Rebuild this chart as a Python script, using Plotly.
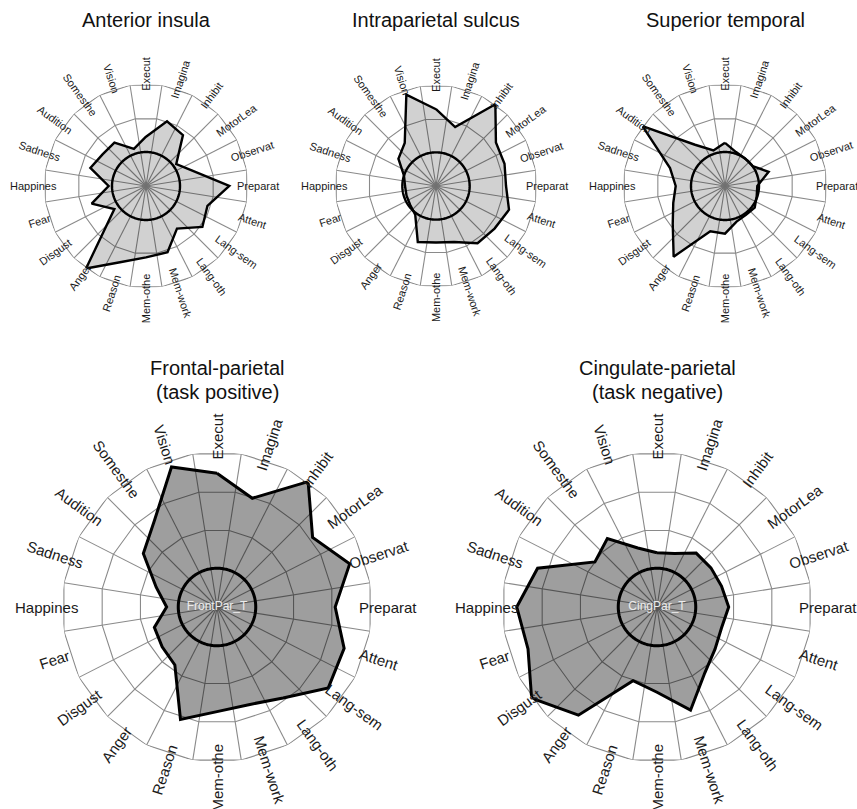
import numpy as np
import plotly.graph_objects as go

# ---------------- data ----------------
categories = ["Execut", "Imagina", "Inhibit", "MotorLea", "Observat", "Preparat",
              "Attent", "Lang-sem", "Lang-oth", "Mem-work", "Mem-othe", "Reason",
              "Anger", "Disgust", "Fear", "Happines", "Sadness", "Audition",
              "Somesthe", "Vision"]

anterior_insula = [1.45, 2.0, 1.85, 1.1, 1.45, 2.45, 1.9, 2.05, 1.55, 2.05,
                   2.1, 2.35, 3.0, 1.15, 1.68, 1.1, 1.72, 1.58, 1.58, 1.15]
intraparietal_sulcus = [2.28, 1.84, 3.0, 2.2, 2.14, 2.08, 2.28, 2.15, 2.1, 1.75,
                        1.68, 1.75, 1.05, 0.95, 0.92, 0.92, 1.0, 1.38, 1.58, 2.85]
superior_temporal = [1.27, 1.05, 1.0, 1.0, 1.35, 0.95, 0.98, 1.08, 1.05, 1.1,
                     1.4, 1.4, 2.57, 1.9, 1.6, 1.45, 1.7, 3.0, 1.5, 1.1]
frontal_parietal = [3.45, 2.95, 4.0, 3.05, 3.6, 3.05, 3.45, 3.55, 2.9, 2.65,
                    2.7, 3.05, 1.85, 1.75, 1.7, 1.3, 1.65, 2.35, 2.75, 3.8]
cingulate_parietal = [1.4, 1.45, 1.72, 1.72, 1.75, 1.85, 1.75, 1.85, 2.1, 2.8,
                      2.2, 2.0, 3.45, 4.0, 3.5, 3.62, 3.24, 1.98, 2.18, 1.6]

top_rings = [1, 2, 3]
bottom_rings = [1, 2, 3, 4]
baseline_level = 1

# ---------------- layout config ----------------
W, H = 857, 809
FONT = "Liberation Sans, Arial, sans-serif"

panels = [
    dict(values=anterior_insula, title=["Anterior insula"], center_text="",
         cx=146, cy=186, R=102, rings=top_rings, fill="rgba(0,0,0,0.18)",
         label_size=11, line_w=2.4, title_y=[20]),
    dict(values=intraparietal_sulcus, title=["Intraparietal sulcus"], center_text="",
         cx=436, cy=186, R=101, rings=top_rings, fill="rgba(0,0,0,0.18)",
         label_size=11, line_w=2.4, title_y=[20]),
    dict(values=superior_temporal, title=["Superior temporal"], center_text="",
         cx=725, cy=186, R=102, rings=top_rings, fill="rgba(0,0,0,0.18)",
         label_size=11, line_w=2.4, title_y=[20]),
    dict(values=frontal_parietal, title=["Frontal-parietal", "(task positive)"],
         center_text="FrontPar_T",
         cx=217, cy=607, R=155, rings=bottom_rings, fill="rgba(0,0,0,0.38)",
         label_size=15, line_w=3, title_y=[368, 392]),
    dict(values=cingulate_parietal, title=["Cingulate-parietal", "(task negative)"],
         center_text="CingPar_T",
         cx=657, cy=607, R=155, rings=bottom_rings, fill="rgba(0,0,0,0.38)",
         label_size=15, line_w=3, title_y=[368, 392]),
]

n = len(categories)
step = 360.0 / n
cat_theta = [i * step for i in range(n)]
bound_theta = [(i + 0.5) * step for i in range(n)]

fig = go.Figure()
annotations = []
layout_polars = {}

for k, p in enumerate(panels):
    pid = "polar" if k == 0 else f"polar{k+1}"
    rmax = max(p["rings"])
    # grid rings (polygons with vertices on the category boundaries)
    for lvl in p["rings"]:
        fig.add_trace(go.Scatterpolar(
            r=[lvl] * (n + 1), theta=bound_theta + bound_theta[:1],
            mode="lines", line=dict(color="#8a8a8a", width=1.1),
            subplot=pid, showlegend=False, hoverinfo="skip", cliponaxis=False))
    # spokes on the boundaries
    sr, st = [], []
    for t in bound_theta:
        sr += [0, rmax, None]
        st += [t, t, None]
    fig.add_trace(go.Scatterpolar(
        r=sr, theta=st, mode="lines", line=dict(color="#8a8a8a", width=1.1),
        subplot=pid, showlegend=False, hoverinfo="skip", cliponaxis=False,
        connectgaps=False))
    # data polygon
    vals = list(p["values"])
    fig.add_trace(go.Scatterpolar(
        r=vals + vals[:1], theta=cat_theta + cat_theta[:1], mode="lines",
        fill="toself", fillcolor=p["fill"],
        line=dict(color="black", width=p["line_w"]),
        subplot=pid, showlegend=False, cliponaxis=False))
    # baseline circle
    circ_t = np.linspace(0, 360, 241)
    fig.add_trace(go.Scatterpolar(
        r=[baseline_level] * len(circ_t), theta=circ_t, mode="lines",
        line=dict(color="black", width=p["line_w"]),
        subplot=pid, showlegend=False, hoverinfo="skip", cliponaxis=False))
    if p["center_text"]:
        fig.add_trace(go.Scatterpolar(
            r=[0], theta=[0], mode="text", text=[p["center_text"]],
            textfont=dict(color="#ececec", size=12, family=FONT),
            subplot=pid, showlegend=False, hoverinfo="skip", cliponaxis=False))

    cx, cy, R = p["cx"], p["cy"], p["R"]
    layout_polars[pid] = dict(
        domain=dict(x=[(cx - R) / W, (cx + R) / W],
                    y=[1 - (cy + R) / H, 1 - (cy - R) / H]),
        bgcolor="rgba(0,0,0,0)",
        angularaxis=dict(rotation=90, direction="clockwise", showgrid=False,
                         showticklabels=False, showline=False, ticks=""),
        radialaxis=dict(range=[0, rmax], visible=False, showgrid=False),
    )

    # category labels, oriented radially
    fr = 1.1
    for name, th in zip(categories, cat_theta):
        rad = np.deg2rad(th)
        px = cx + fr * R * np.sin(rad)
        py = cy - fr * R * np.cos(rad)
        ang = th - 90 if th < 180 else th - 270
        annotations.append(dict(
            text=name, x=px / W, y=1 - py / H, xref="paper", yref="paper",
            xanchor="center", yanchor="middle", showarrow=False,
            textangle=ang, font=dict(size=p["label_size"], color="#1a1a1a",
                                     family=FONT)))
    # titles
    for line, ty in zip(p["title"], p["title_y"]):
        annotations.append(dict(
            text=line, x=cx / W, y=1 - ty / H, xref="paper", yref="paper",
            xanchor="center", yanchor="middle", showarrow=False,
            font=dict(size=20, color="#111111", family=FONT)))

fig.update_layout(
    width=W, height=H, margin=dict(l=0, r=0, t=0, b=0),
    paper_bgcolor="white", plot_bgcolor="white",
    font=dict(family=FONT),
    annotations=annotations, showlegend=False,
    **layout_polars)

fig.write_html("out.html",
               config={"displayModeBar": False},
               post_script="document.body.style.margin='0px';"
                           "document.body.style.overflow='hidden';")
